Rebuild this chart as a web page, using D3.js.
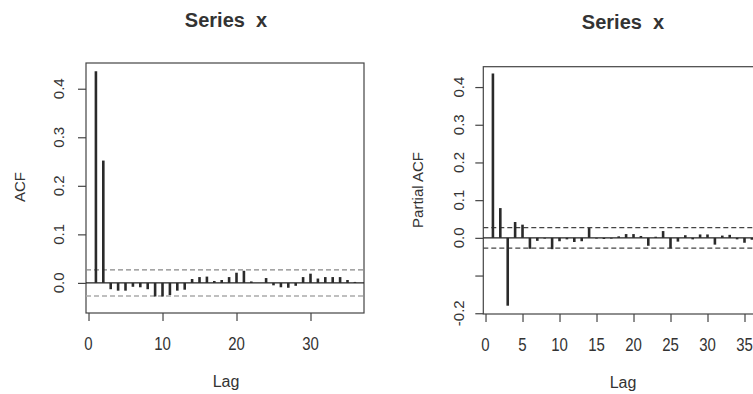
<!DOCTYPE html>
<html>
<head>
<meta charset="utf-8">
<script src="https://cdn.jsdelivr.net/npm/d3@7"></script>
<style>
  html, body { margin: 0; padding: 0; background: #fff; }
  svg { display: block; }
  text { font-family: "Liberation Sans", Arial, Helvetica, sans-serif; fill: #333; }
</style>
</head>
<body>
<svg id="chart" width="753" height="394"></svg>
<script>
// ---- data ----
const lags = d3.range(1, 37);
const acfValues = [0.436, 0.252, -0.013, -0.016, -0.016, -0.008, -0.009, -0.013, -0.028, -0.028,
  -0.025, -0.016, -0.014, 0.008, 0.012, 0.013, 0.004, 0.006, 0.012, 0.021,
  0.025, 0.003, 0.000, 0.010, -0.005, -0.009, -0.010, -0.006, 0.012, 0.019,
  0.009, 0.012, 0.012, 0.012, 0.006, 0.002];
const pacfValues = [0.436, 0.079, -0.180, 0.042, 0.035, -0.029, -0.008, -0.002, -0.030, -0.009,
  -0.004, -0.011, -0.009, 0.026, -0.002, -0.003, -0.002, 0.004, 0.010, 0.010,
  0.005, -0.021, 0.003, 0.018, -0.028, -0.010, 0.007, -0.004, 0.009, 0.009,
  -0.018, 0.006, 0.008, -0.004, -0.013, -0.005];
const ciBound = 0.027;
const acfYTicks = [0.0, 0.1, 0.2, 0.3, 0.4];
const acfYLabels = ["0.0", "0.1", "0.2", "0.3", "0.4"];
const acfXTicks = [0, 10, 20, 30];
const pacfYTicks = [-0.2, -0.1, 0.0, 0.1, 0.2, 0.3, 0.4];
const pacfYLabels = ["-0.2", "", "0.0", "0.1", "0.2", "0.3", "0.4"];
const pacfXTicks = [0, 5, 10, 15, 20, 25, 30, 35];
const titleText = "Series  x";

const svg = d3.select("#chart");

function panel(cfg) {
  const g = svg.append("g");
  const x = d3.scaleLinear().domain(cfg.xDomain).range([cfg.left, cfg.right]);
  const y = d3.scaleLinear().domain(cfg.yDomain).range([cfg.bottom, cfg.top]);

  // box
  g.append("rect")
    .attr("x", cfg.left).attr("y", cfg.top)
    .attr("width", cfg.right - cfg.left).attr("height", cfg.bottom - cfg.top)
    .attr("fill", "none").attr("stroke", "#444").attr("stroke-width", 1.2);

  // zero line
  g.append("line")
    .attr("x1", cfg.left).attr("x2", cfg.right)
    .attr("y1", y(0)).attr("y2", y(0))
    .attr("stroke", "#222").attr("stroke-width", 1.3);

  // confidence lines
  g.append("line")
    .attr("x1", cfg.left).attr("x2", cfg.right)
    .attr("y1", y(ciBound)).attr("y2", y(ciBound))
    .attr("stroke", cfg.ciUpper).attr("stroke-width", 1.3)
    .attr("stroke-dasharray", "5,3");
  g.append("line")
    .attr("x1", cfg.left).attr("x2", cfg.right)
    .attr("y1", y(-ciBound)).attr("y2", y(-ciBound))
    .attr("stroke", cfg.ciLower).attr("stroke-width", 1.3)
    .attr("stroke-dasharray", "5,3");

  // spikes
  g.selectAll("line.spike").data(cfg.values).enter().append("line")
    .attr("class", "spike")
    .attr("x1", (d, i) => x(lags[i])).attr("x2", (d, i) => x(lags[i]))
    .attr("y1", y(0)).attr("y2", d => y(d))
    .attr("stroke", "#2a2a2a").attr("stroke-width", 2.6);

  // y axis
  const ya = g.append("g").attr("transform", `translate(${cfg.left},0)`)
    .call(d3.axisLeft(y).tickValues(cfg.yTicks).tickSize(8).tickSizeOuter(0).tickFormat(""));
  ya.select(".domain").remove();
  ya.selectAll(".tick line").attr("stroke", "#444").attr("stroke-width", 1.2);
  cfg.yTicks.forEach((t, i) => {
    if (!cfg.yLabels[i]) return;
    g.append("text")
      .attr("transform", `translate(${cfg.yLabelX},${y(t)}) rotate(-90)`)
      .attr("text-anchor", "middle")
      .attr("font-size", 15)
      .text(cfg.yLabels[i]);
  });

  // x axis
  const xa = g.append("g").attr("transform", `translate(0,${cfg.bottom})`)
    .call(d3.axisBottom(x).tickValues(cfg.xTicks).tickSize(8).tickSizeOuter(0).tickFormat(""));
  xa.select(".domain").remove();
  xa.selectAll(".tick line").attr("stroke", "#444").attr("stroke-width", 1.2);
  cfg.xTicks.forEach(t => {
    g.append("text")
      .attr("transform", `translate(${x(t)},${cfg.xLabelY}) scale(1,1.2)`)
      .attr("text-anchor", "middle")
      .attr("font-size", 15)
      .text(String(t));
  });

  // axis titles
  g.append("text")
    .attr("x", cfg.titleX).attr("y", cfg.lagY)
    .attr("text-anchor", "middle").attr("font-size", 16)
    .text("Lag");
  g.append("text")
    .attr("transform", `translate(${cfg.yTitleX},${cfg.yTitleY}) rotate(-90)`)
    .attr("text-anchor", "middle").attr("font-size", 15)
    .text(cfg.yTitle);
  g.append("text")
    .attr("x", cfg.titleX).attr("y", cfg.titleY)
    .attr("text-anchor", "middle").attr("font-size", 20).attr("font-weight", "bold")
    .style("white-space", "pre").attr("xml:space", "preserve")
    .text(titleText);
}

panel({
  values: acfValues,
  xDomain: [-0.34, 37.23], yDomain: [-0.062, 0.453],
  left: 86, right: 364, top: 63, bottom: 313,
  yTicks: acfYTicks, yLabels: acfYLabels, xTicks: acfXTicks,
  yLabelX: 64, xLabelY: 350, lagY: 387, titleX: 226, titleY: 27,
  yTitle: "ACF", yTitleX: 25, yTitleY: 187,
  ciUpper: "#888", ciLower: "#aaa"
});

panel({
  values: pacfValues,
  xDomain: [-0.3, 37.23], yDomain: [-0.202, 0.454],
  left: 483.3, right: 761, top: 66.7, bottom: 314,
  yTicks: pacfYTicks, yLabels: pacfYLabels, xTicks: pacfXTicks,
  yLabelX: 464, xLabelY: 351, lagY: 388, titleX: 623, titleY: 29,
  yTitle: "Partial ACF", yTitleX: 423, yTitleY: 190,
  ciUpper: "#444", ciLower: "#444"
});
</script>
</body>
</html>
